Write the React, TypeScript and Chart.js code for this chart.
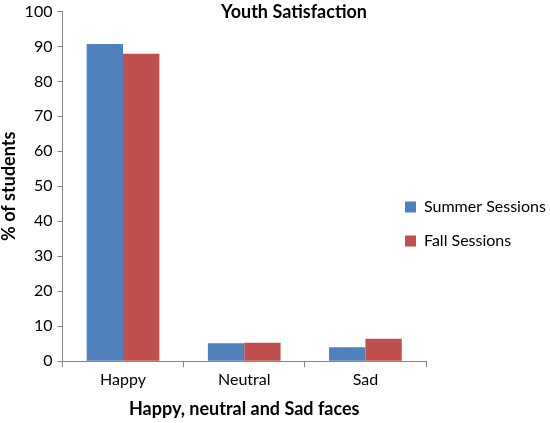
import React, { useEffect, useRef } from "react";
import { Chart, registerables } from "chart.js";

Chart.register(...registerables);

const chartTitle = "Youth Satisfaction";
const categories = ["Happy", "Neutral", "Sad"];
const seriesNames = ["Summer Sessions", "Fall Sessions"];
const summerValues = [90.7, 5.1, 4.0];
const fallValues = [87.9, 5.3, 6.4];
const seriesColors = ["#4F81BD", "#C0504D"];
const yMin = 0;
const yMax = 100;
const yStep = 10;
const xAxisTitle = "Happy, neutral and Sad faces";
const yAxisTitle = "% of students";

const FONT = "Lato, 'Open Sans', sans-serif";
const AXIS_COLOR = "#878787";

export default function App() {
  const ref = useRef<HTMLCanvasElement | null>(null);

  useEffect(() => {
    document.body.style.margin = "0";
    const canvas = ref.current;
    if (!canvas) return;

    const titlePlugin = {
      id: "excelTitle",
      afterDraw(chart: any) {
        const ctx = chart.ctx;
        ctx.save();
        ctx.font = `bold 18px ${FONT}`;
        ctx.fillStyle = "#000";
        ctx.textAlign = "center";
        ctx.textBaseline = "middle";
        ctx.fillText(chartTitle, 294, 12);
        ctx.restore();
      },
    };

    const legendShift = {
      id: "legendShift",
      afterLayout(chart: any) {
        const lg = chart.legend;
        if (!lg) return;
        const pad = lg.options.labels.padding;
        const dx = chart.chartArea.right - 21 - (lg.left + pad);
        lg.left += dx;
        lg.right = 550;
        lg.width = lg.right - lg.left;
        lg.top += 11;
        lg.bottom += 11;
      },
    };

    const chart = new Chart(canvas, {
      type: "bar",
      data: {
        labels: categories,
        datasets: [
          {
            label: seriesNames[0],
            data: summerValues,
            backgroundColor: seriesColors[0],
            categoryPercentage: 0.6,
            barPercentage: 1.0,
          },
          {
            label: seriesNames[1],
            data: fallValues,
            backgroundColor: seriesColors[1],
            categoryPercentage: 0.6,
            barPercentage: 1.0,
          },
        ],
      },
      options: {
        responsive: false,
        animation: false,
        layout: { padding: { top: 6, left: -2, right: 0, bottom: 3 } },
        plugins: {
          title: { display: false },
          tooltip: { enabled: false },
          legend: {
            display: true,
            position: "right",
            maxWidth: 124,
            labels: {
              boxWidth: 11,
              boxHeight: 11,
              padding: 18,
              color: "#000",
              font: { family: FONT, size: 16 },
            },
          },
        },
        scales: {
          x: {
            offset: true,
            grid: {
              display: true,
              offset: true,
              drawOnChartArea: false,
              drawTicks: true,
              tickLength: 6,
              color: AXIS_COLOR,
            },
            border: { display: true, color: AXIS_COLOR, width: 1 },
            ticks: {
              color: "#000",
              padding: 3,
              font: { family: FONT, size: 16 },
            },
            title: {
              display: true,
              text: xAxisTitle,
              color: "#000",
              font: { family: FONT, size: 18, weight: "bold" },
              padding: { top: 6, bottom: 0 },
            },
          },
          y: {
            min: yMin,
            max: yMax,
            ticks: {
              stepSize: yStep,
              color: "#000",
              padding: 5,
              font: { family: FONT, size: 16, lineHeight: 0.8 },
            },
            grid: {
              display: true,
              drawOnChartArea: false,
              drawTicks: true,
              tickLength: 5,
              color: AXIS_COLOR,
            },
            border: { display: true, color: AXIS_COLOR, width: 1 },
            title: {
              display: true,
              text: yAxisTitle,
              color: "#000",
              font: { family: FONT, size: 18, weight: "bold" },
              padding: { top: 0, bottom: 0 },
            },
          },
        },
      },
      plugins: [titlePlugin, legendShift],
    });

    return () => chart.destroy();
  }, []);

  return (
    <div style={{ width: 550, height: 423, background: "#fff" }}>
      <canvas ref={ref} width={550} height={423} style={{ display: "block" }} />
    </div>
  );
}
